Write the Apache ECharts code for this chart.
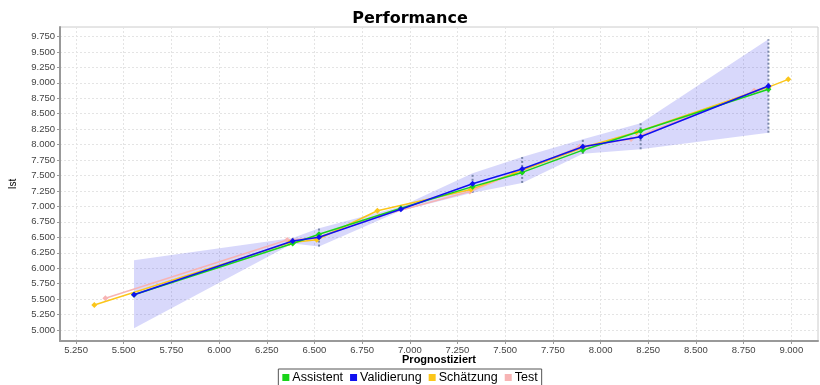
<!DOCTYPE html>
<html>
<head>
<meta charset="utf-8">
<script src="https://cdn.jsdelivr.net/npm/echarts@6/dist/echarts.min.js"></script>
<style>
  html, body { margin: 0; padding: 0; background: #fff; }
  #chart { width: 820px; height: 385px; }
</style>
</head>
<body>
<div id="chart"></div>
<script>
// Tick labels
var xTicks = [5.25, 5.5, 5.75, 6.0, 6.25, 6.5, 6.75, 7.0, 7.25, 7.5, 7.75, 8.0, 8.25, 8.5, 8.75, 9.0];
var yTicks = [5.0, 5.25, 5.5, 5.75, 6.0, 6.25, 6.5, 6.75, 7.0, 7.25, 7.5, 7.75, 8.0, 8.25, 8.5, 8.75, 9.0, 9.25, 9.5, 9.75];

// Bins (prognostiziert) shared by Assistent / Validierung and the band
var binX = [5.554, 6.386, 6.524, 6.953, 7.329, 7.589, 7.907, 8.21, 8.88];
var assistentY = [5.57, 6.40, 6.55, 6.97, 7.32, 7.55, 7.91, 8.22, 8.895];
var validierungY = [5.57, 6.44, 6.50, 6.953, 7.367, 7.605, 7.966, 8.128, 8.948];
var bandLow = [5.03, 6.40, 6.35, 6.93, 7.22, 7.38, 7.85, 7.925, 8.193];
var bandHigh = [6.13, 6.49, 6.645, 7.0, 7.535, 7.80, 8.085, 8.345, 9.705];

// Schätzung
var schaetzungX = [5.346, 6.368, 6.512, 6.83, 7.32, 7.546, 7.905, 8.188, 8.88, 8.984];
var schaetzungY = [5.405, 6.41, 6.46, 6.93, 7.275, 7.535, 7.95, 8.199, 8.93, 9.056];

// Test
var testX = [5.404, 6.357, 6.508, 6.84, 7.315, 7.89, 8.16, 8.805, 8.88];
var testY = [5.513, 6.456, 6.49, 6.845, 7.24, 7.966, 8.09, 8.87, 8.94];

function pairs(xs, ys) {
  return xs.map(function (x, i) { return [x, ys[i]]; });
}

var fmt = function (v) { return v.toFixed(3); };

var chart = echarts.init(document.getElementById('chart'));
chart.setOption({
  animation: false,
  backgroundColor: '#fff',
  textStyle: { fontFamily: 'Liberation Sans, Arial, sans-serif' },
  title: {
    text: 'Performance',
    left: 'center',
    top: 6,
    textStyle: { fontSize: 16, fontWeight: 'bold', color: '#000', fontFamily: 'DejaVu Sans' }
  },
  legend: {
    top: 369,
    left: 'center',
    itemWidth: 7,
    itemHeight: 7,
    itemGap: 7,
    padding: [2, 4, 3, 4],
    borderColor: '#555',
    borderWidth: 1,
    textStyle: { fontSize: 12.5, color: '#000', padding: [0, 0, 0, -2] },
    data: [
      { name: 'Assistent', icon: 'rect' },
      { name: 'Validierung', icon: 'rect' },
      { name: 'Schätzung', icon: 'rect' },
      { name: 'Test', icon: 'rect' }
    ]
  },
  grid: { left: 60, right: 2, top: 27, bottom: 44, show: true, borderColor: '#ccc', borderWidth: 1 },
  xAxis: {
    type: 'value',
    min: 5.166,
    max: 9.14,
    name: 'Prognostiziert',
    nameLocation: 'middle',
    nameGap: 13,
    nameMoveOverlap: false,
    nameTextStyle: { fontSize: 11, fontWeight: 'bold', color: '#000', verticalAlign: 'top' },
    axisLine: { onZero: false, lineStyle: { color: '#999', width: 2 } },
    axisTick: { customValues: xTicks, length: 3, lineStyle: { color: '#999' } },
    axisLabel: { customValues: xTicks, formatter: fmt, fontSize: 9.5, color: '#444', margin: 4 },
    splitLine: { show: true, lineStyle: { color: '#e4e4e4', type: [2, 2] } }
  },
  yAxis: {
    type: 'value',
    min: 4.822,
    max: 9.903,
    name: 'Ist',
    nameLocation: 'middle',
    nameGap: 42,
    nameMoveOverlap: false,
    nameTextStyle: { fontSize: 10, color: '#000' },
    axisLine: { show: true, onZero: false, lineStyle: { color: '#999', width: 2 } },
    axisTick: { show: true, customValues: yTicks, length: 3, lineStyle: { color: '#999' } },
    axisLabel: { customValues: yTicks, formatter: fmt, fontSize: 9.5, color: '#444', margin: 5 },
    splitLine: { show: true, lineStyle: { color: '#e4e4e4', type: [2, 2] } }
  },
  series: [
    {
      name: 'band',
      type: 'custom',
      silent: true,
      z: 1,
      data: [[binX[0], bandLow[0]]],
      renderItem: function (params, api) {
        var pts = [];
        for (var i = 0; i < binX.length; i++) pts.push(api.coord([binX[i], bandHigh[i]]));
        for (var j = binX.length - 1; j >= 0; j--) pts.push(api.coord([binX[j], bandLow[j]]));
        return { type: 'polygon', shape: { points: pts }, style: { fill: 'rgba(60,60,235,0.2)' } };
      }
    },
    {
      name: 'errbars',
      type: 'custom',
      silent: true,
      z: 2,
      data: binX.slice(1).map(function (x, i) { return [x, bandLow[i + 1], bandHigh[i + 1]]; }),
      renderItem: function (params, api) {
        var p1 = api.coord([api.value(0), api.value(1)]);
        var p2 = api.coord([api.value(0), api.value(2)]);
        return {
          type: 'line',
          shape: { x1: p1[0], y1: p1[1], x2: p2[0], y2: p2[1] },
          style: { stroke: '#7886a8', lineWidth: 2, lineDash: [2, 2] }
        };
      }
    },
    {
      name: 'Test',
      type: 'line',
      z: 3,
      color: '#f7b4b4',
      symbol: 'diamond',
      symbolSize: 6,
      lineStyle: { width: 1.5 },
      data: pairs(testX, testY)
    },
    {
      name: 'Schätzung',
      type: 'line',
      z: 4,
      color: '#fbc61a',
      symbol: 'diamond',
      symbolSize: 6,
      lineStyle: { width: 1.5 },
      data: pairs(schaetzungX, schaetzungY)
    },
    {
      name: 'Assistent',
      type: 'line',
      z: 5,
      color: '#19d419',
      symbol: 'diamond',
      symbolSize: 6,
      lineStyle: { width: 1.5 },
      data: pairs(binX, assistentY)
    },
    {
      name: 'Validierung',
      type: 'line',
      z: 6,
      color: '#1010f0',
      symbol: 'diamond',
      symbolSize: 6,
      lineStyle: { width: 1.5 },
      data: pairs(binX, validierungY)
    }
  ]
});
</script>
</body>
</html>
